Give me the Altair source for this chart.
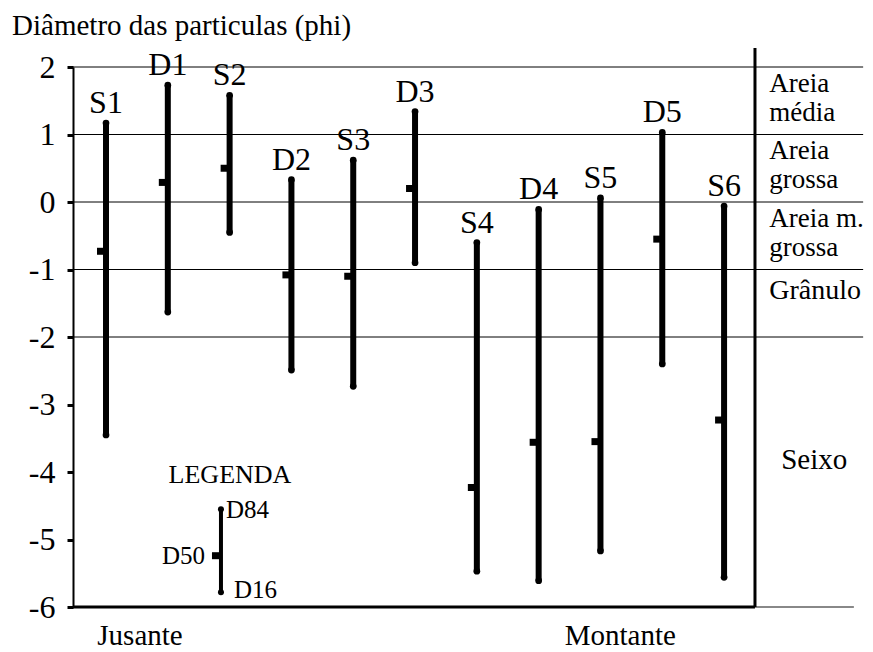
import altair as alt
import pandas as pd

# ---------------- data ----------------
samples = ["S1", "D1", "S2", "D2", "S3", "D3", "S4", "D4", "S5", "D5", "S6"]
d84 = [1.17, 1.73, 1.58, 0.33, 0.62, 1.34, -0.60, -0.11, 0.06, 1.03, -0.06]
d50 = [-0.73, 0.29, 0.50, -1.08, -1.10, 0.20, -4.23, -3.56, -3.55, -0.55, -3.23]
d16 = [-3.45, -1.63, -0.45, -2.49, -2.73, -0.90, -5.47, -5.61, -5.17, -2.40, -5.56]

zone_names = ["Areia\nmédia", "Areia\ngrossa", "Areia m.\ngrossa", "Grânulo", "Seixo"]
zone_top = [2, 1, 0, -1, -2]
zone_bottom = [1, 0, -1, -2, -6]

boundaries = [2, 1, 0, -1, -2]
y_ticks = [-6, -5.5, -5, -4.5, -4, -3.5, -3, -2.5, -2, -1.5, -1, -0.5, 0, 0.5, 1, 1.5, 2]

legend_d84, legend_d50, legend_d16 = -4.55, -5.24, -5.78

title_text = "Diâmetro das particulas (phi)"
left_label, right_label = "Jusante", "Montante"

# ---------------- layout ----------------
FONT = "Liberation Serif, Times New Roman, serif"
X_MIN, X_MAX = -0.534, 12.28
BOX_RIGHT = 10.5
ZONE_X = 10.73
LEG_X = 1.86

xs = alt.Scale(domain=[X_MIN, X_MAX], nice=False, zero=False)
ys = alt.Scale(domain=[-6, 2], nice=False, zero=False)

df = pd.DataFrame({"i": list(range(len(samples))), "s": samples,
                   "d84": d84, "d50": d50, "d16": d16})
ends = pd.DataFrame({"i": list(range(len(samples))) * 2, "v": d84 + d16})

X = lambda f: alt.X(f, scale=xs, axis=None)

base_y_axis = alt.Axis(values=y_ticks, grid=False, title=None,
                       domainColor="black", domainWidth=2,
                       tickColor="black", tickWidth=3, tickSize=6,
                       labelFont=FONT, labelFontSize=32, labelColor="black",
                       labelPadding=12,
                       labelExpr="datum.value % 1 == 0 ? '' + datum.value : ''")

bars = alt.Chart(df).mark_rule(color="black", strokeWidth=6).encode(
    x=X("i:Q"),
    y=alt.Y("d84:Q", scale=ys, axis=base_y_axis),
    y2="d16:Q",
)
dots = alt.Chart(ends).mark_circle(color="black", size=45, opacity=1).encode(
    x=X("i:Q"), y=alt.Y("v:Q", scale=ys))
medians = alt.Chart(df).mark_tick(color="black", orient="horizontal", size=10,
                                  thickness=7, xOffset=-4, opacity=1).encode(
    x=X("i:Q"), y=alt.Y("d50:Q", scale=ys))
labels = alt.Chart(df).mark_text(font=FONT, fontSize=32, baseline="alphabetic",
                                 dy=-10, color="black").encode(
    x=X("i:Q"), y=alt.Y("d84:Q", scale=ys), text="s:N")

# zone boundary lines
bdf = pd.DataFrame({"y": boundaries})
grid = alt.Chart(bdf).mark_rule(color="black", strokeWidth=1).encode(
    x=alt.X("x1:Q", scale=xs, axis=None), x2="x2:Q", y=alt.Y("y:Q", scale=ys)
).transform_calculate(x1=str(X_MIN), x2="12.25")

# box bottom and right + bottom extension
frame_df = pd.DataFrame({"y": [-6]})
bottom_box = alt.Chart(frame_df).mark_rule(color="black", strokeWidth=3).encode(
    x=alt.X("x1:Q", scale=xs, axis=None), x2="x2:Q", y=alt.Y("y:Q", scale=ys)
).transform_calculate(x1=str(X_MIN), x2=str(BOX_RIGHT))
bottom_ext = alt.Chart(frame_df).mark_rule(color="#888", strokeWidth=2).encode(
    x=alt.X("x1:Q", scale=xs, axis=None), x2="x2:Q", y=alt.Y("y:Q", scale=ys)
).transform_calculate(x1=str(BOX_RIGHT), x2="12.1")
right_box = alt.Chart(frame_df).mark_rule(color="black", strokeWidth=3).encode(
    x=alt.X("x:Q", scale=xs, axis=None), y=alt.Y("y:Q", scale=ys), y2="y2:Q"
).transform_calculate(x=str(BOX_RIGHT), y2="2.28")

# zone labels
zdf = pd.DataFrame({"name": zone_names, "top": zone_top, "bottom": zone_bottom})
zdf["mid"] = (zdf["top"] + zdf["bottom"]) / 2
zdf["x"] = ZONE_X
multi = zdf["name"].str.contains("\n")
zone_text = alt.Chart(zdf[multi]).mark_text(
    font=FONT, fontSize=27, align="left", baseline="middle", lineBreak="\n",
    lineHeight=29, dy=-17, color="black").encode(
    x=alt.X("x:Q", scale=xs, axis=None), y=alt.Y("mid:Q", scale=ys), text="name:N")
granulo_text = alt.Chart(zdf[zdf["name"] == "Grânulo"]).mark_text(
    font=FONT, fontSize=28, align="left", baseline="middle", dy=-12,
    color="black").encode(
    x=alt.X("x:Q", scale=xs, axis=None), y=alt.Y("mid:Q", scale=ys), text="name:N")
seixo_text = alt.Chart(zdf[zdf["name"] == "Seixo"]).mark_text(
    font=FONT, fontSize=29, align="left", baseline="middle", dx=12, dy=-12,
    color="black").encode(
    x=alt.X("x:Q", scale=xs, axis=None), y=alt.Y("mid:Q", scale=ys), text="name:N")

# legend
ldf = pd.DataFrame({"x": [LEG_X], "d84": [legend_d84], "d50": [legend_d50],
                    "d16": [legend_d16]})
LX = alt.X("x:Q", scale=xs, axis=None)
leg_bar = alt.Chart(ldf).mark_rule(color="black", strokeWidth=4).encode(
    x=LX, y=alt.Y("d84:Q", scale=ys), y2="d16:Q")
leg_dot_top = alt.Chart(ldf).mark_circle(color="black", size=36, opacity=1).encode(
    x=LX, y=alt.Y("d84:Q", scale=ys))
leg_dot_bot = alt.Chart(ldf).mark_circle(color="black", size=36, opacity=1).encode(
    x=LX, y=alt.Y("d16:Q", scale=ys))
leg_med = alt.Chart(ldf).mark_tick(color="black", orient="horizontal", size=10,
                                   thickness=7, xOffset=-4, opacity=1).encode(
    x=LX, y=alt.Y("d50:Q", scale=ys))
leg_title = alt.Chart(ldf).mark_text(font=FONT, fontSize=26, baseline="alphabetic",
                                     dx=9, dy=-26, color="black",
                                     text="LEGENDA").encode(
    x=LX, y=alt.Y("d84:Q", scale=ys))
leg_84 = alt.Chart(ldf).mark_text(font=FONT, fontSize=25, align="left",
                                  baseline="middle", dx=5, dy=1, color="black",
                                  text="D84").encode(
    x=LX, y=alt.Y("d84:Q", scale=ys))
leg_50 = alt.Chart(ldf).mark_text(font=FONT, fontSize=25, align="right",
                                  baseline="middle", dx=-16, color="black",
                                  text="D50").encode(
    x=LX, y=alt.Y("d50:Q", scale=ys))
leg_16 = alt.Chart(ldf).mark_text(font=FONT, fontSize=25, align="left",
                                  baseline="middle", dx=13, dy=-2, color="black",
                                  text="D16").encode(
    x=LX, y=alt.Y("d16:Q", scale=ys))

# title and bottom labels
tdf = pd.DataFrame({"x": [-1.52], "y": [2.48], "t": [title_text]})
title = alt.Chart(tdf).mark_text(font=FONT, fontSize=29, align="left",
                                 baseline="alphabetic", color="black").encode(
    x=alt.X("x:Q", scale=xs, axis=None), y=alt.Y("y:Q", scale=ys), text="t:N")
bdf2 = pd.DataFrame({"x": [0.55, 8.32], "y": [-6.57, -6.57],
                     "t": [left_label, right_label]})
bottom_labels = alt.Chart(bdf2).mark_text(font=FONT, fontSize=29, align="center",
                                          baseline="alphabetic", color="black").encode(
    x=alt.X("x:Q", scale=xs, axis=None), y=alt.Y("y:Q", scale=ys), text="t:N")

chart = alt.layer(
    bars, grid, bottom_box, bottom_ext, right_box, dots, medians, labels,
    zone_text, granulo_text, seixo_text, leg_bar, leg_dot_top, leg_dot_bot, leg_med,
    leg_title, leg_84, leg_50, leg_16, title, bottom_labels,
).properties(
    width=792, height=540,
    autosize=alt.AutoSizeParams(type="none"),
    padding={"left": 65, "top": 59, "right": 0, "bottom": 45},
    background="white",
).configure_view(stroke=None)

chart.save("out.html", embed_options={"renderer": "svg", "actions": False})
